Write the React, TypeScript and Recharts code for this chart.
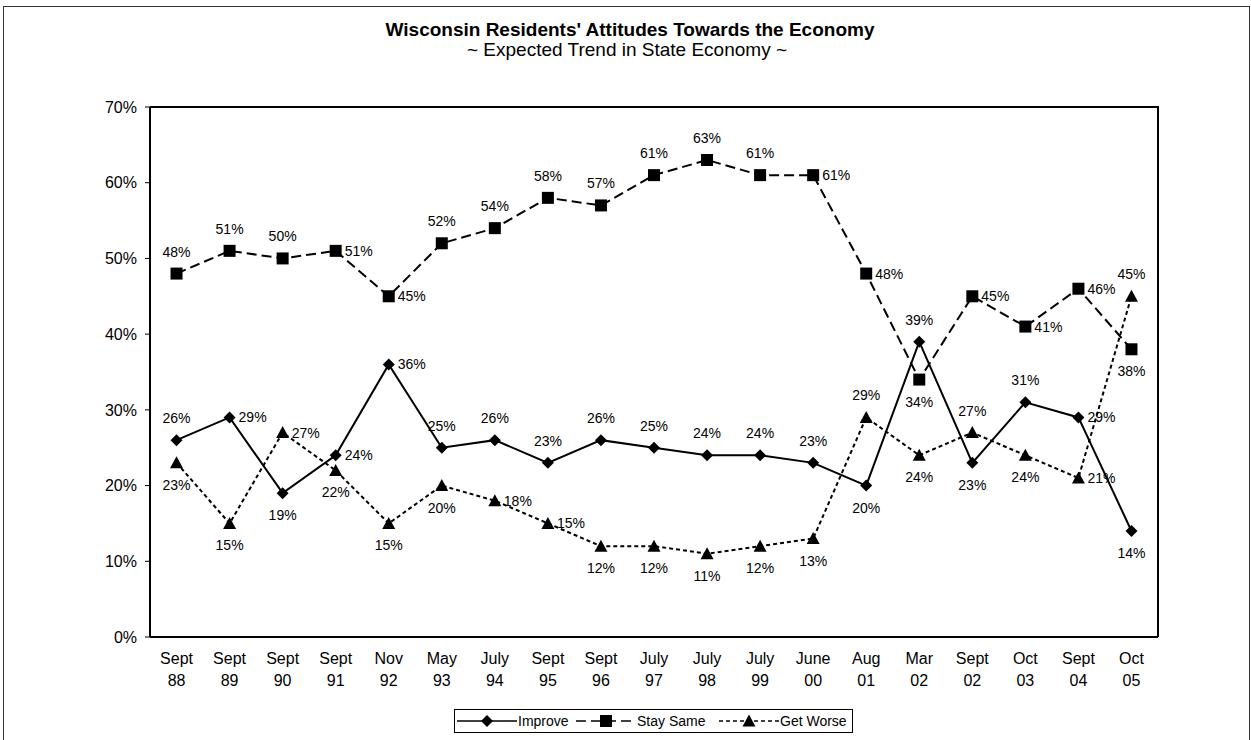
import React from 'react'
import { LineChart, Line, XAxis, YAxis } from 'recharts'

const categories = [
  'Sept 88', 'Sept 89', 'Sept 90', 'Sept 91', 'Nov 92', 'May 93', 'July 94', 'Sept 95', 'Sept 96', 'July 97',
  'July 98', 'July 99', 'June 00', 'Aug 01', 'Mar 02', 'Sept 02', 'Oct 03', 'Sept 04', 'Oct 05',
]
const improve = [26, 29, 19, 24, 36, 25, 26, 23, 26, 25, 24, 24, 23, 20, 39, 23, 31, 29, 14]
const staySame = [48, 51, 50, 51, 45, 52, 54, 58, 57, 61, 63, 61, 61, 48, 34, 45, 41, 46, 38]
const getWorse = [23, 15, 27, 22, 15, 20, 18, 15, 12, 12, 11, 12, 13, 29, 24, 27, 24, 21, 45]
const yTicks = [0, 10, 20, 30, 40, 50, 60, 70]

// where each point's label sits: t = above, r = right, b = below
const improveLabelPos = ['t', 'r', 'b', 'r', 'r', 't', 't', 't', 't', 't', 't', 't', 't', 'b', 't', 'b', 't', 'r', 'b']
const staySameLabelPos = ['t', 't', 't', 'r', 'r', 't', 't', 't', 't', 't', 't', 't', 'r', 'r', 'b', 'r', 'r', 'r', 'b']
const getWorseLabelPos = ['b', 'b', 'r', 'b', 'b', 'b', 'r', 'r', 'b', 'b', 'b', 'b', 'b', 't', 'b', 't', 'b', 'r', 't']

const rows = categories.map((label, i) => ({
  label,
  improve: improve[i],
  staySame: staySame[i],
  getWorse: getWorse[i],
}))

const series = [
  { key: 'improve', name: 'Improve', dash: undefined, marker: 'diamond', labels: improveLabelPos },
  { key: 'staySame', name: 'Stay Same', dash: '10 5', marker: 'square', labels: staySameLabelPos },
  { key: 'getWorse', name: 'Get Worse', dash: '4 3', marker: 'triangle', labels: getWorseLabelPos },
]

const FONT = '"Liberation Sans", Arial, Helvetica, sans-serif'
const W = 1251
const H = 740
// plot box
const PLOT = { left: 150, top: 107, right: 1158, bottom: 637 }
const X_AXIS_H = 60
const frameLine = { stroke: '#000', strokeWidth: 2 }

function Marker({ kind, cx, cy }: { kind: string; cx: number; cy: number }) {
  if (kind === 'diamond') {
    return <polygon points={`${cx},${cy - 6} ${cx + 6},${cy} ${cx},${cy + 6} ${cx - 6},${cy}`} fill="#000" />
  }
  if (kind === 'square') {
    return <rect x={cx - 6} y={cy - 6} width={12} height={12} fill="#000" />
  }
  return <polygon points={`${cx},${cy - 6.5} ${cx + 6.5},${cy + 5.5} ${cx - 6.5},${cy + 5.5}`} fill="#000" />
}

const makeDot = (s: any) => (props: any) => {
  const { cx, cy, index, payload } = props
  if (cx == null || cy == null) return <g key={`${s.key}-${index}`} />
  const pos = s.labels[index]
  let tx = cx
  let ty = cy - 17
  let anchor: any = 'middle'
  if (pos === 'b') ty = cy + 27
  if (pos === 'r') {
    tx = cx + 9
    ty = cy + 5
    anchor = 'start'
  }
  return (
    <g key={`${s.key}-${index}`}>
      <Marker kind={s.marker} cx={cx} cy={cy} />
      <text x={tx} y={ty} textAnchor={anchor} fontSize={14} fill="#000">
        {payload[s.key]}%
      </text>
    </g>
  )
}

const XTick = ({ x, y, payload }: any) => {
  const [mon, yr] = String(payload.value).split(' ')
  return (
    <text x={x} y={y} textAnchor="middle" fontSize={16} fill="#000">
      <tspan x={x} dy={27}>{mon}</tspan>
      <tspan x={x} dy={22}>{yr}</tspan>
    </text>
  )
}

// legend sample start positions
const legendX = [457, 576, 719]

export default function App() {
  const band = (PLOT.right - PLOT.left) / categories.length
  return (
    <div
      style={{
        position: 'absolute',
        left: 0,
        top: 0,
        width: W,
        height: H,
        background: '#fff',
        overflow: 'hidden',
        fontFamily: FONT,
      }}
    >
      <div
        style={{
          position: 'absolute',
          left: 3,
          top: 6,
          width: 1247,
          height: 800,
          border: '1px solid #333',
          boxSizing: 'border-box',
        }}
      />
      <div style={{ position: 'absolute', left: 0, top: 0 }}>
        <LineChart
          width={W}
          height={H}
          data={rows}
          margin={{ top: PLOT.top, right: W - PLOT.right, bottom: H - PLOT.bottom - X_AXIS_H, left: 0 }}
        >
          <XAxis
            dataKey="label"
            height={X_AXIS_H}
            interval={0}
            padding={{ left: band / 2, right: band / 2 }}
            tickLine={false}
            tickSize={0}
            tickMargin={0}
            tick={<XTick />}
            axisLine={frameLine}
          />
          <YAxis
            width={PLOT.left}
            domain={[0, 70]}
            ticks={yTicks}
            tickFormatter={(v) => `${v}%`}
            tickSize={5}
            tickMargin={8}
            tick={{ fontSize: 16, fill: '#000' }}
            tickLine={{ stroke: '#000', strokeWidth: 1 }}
            axisLine={frameLine}
          />
          {series.map((s) => (
            <Line
              key={s.key}
              type="linear"
              dataKey={s.key}
              name={s.name}
              stroke="#000"
              strokeWidth={2}
              strokeDasharray={s.dash}
              dot={makeDot(s)}
              activeDot={false}
              isAnimationActive={false}
            />
          ))}
        </LineChart>
      </div>
      <svg width={W} height={H} style={{ position: 'absolute', left: 0, top: 0, pointerEvents: 'none' }}>
        {/* top and right edges of the plot frame */}
        <polyline
          points={`${PLOT.left},${PLOT.top} ${PLOT.right},${PLOT.top} ${PLOT.right},${PLOT.bottom}`}
          fill="none"
          stroke="#000"
          strokeWidth={2}
        />
        <text x={630} y={36} textAnchor="middle" fontSize={19} fontWeight="bold" fill="#000">
          Wisconsin Residents' Attitudes Towards the Economy
        </text>
        <text x={627} y={56} textAnchor="middle" fontSize={19} fill="#000">
          ~ Expected Trend in State Economy ~
        </text>
        <rect x={454.5} y={709.5} width={398} height={23} fill="#fff" stroke="#000" strokeWidth={1} />
        {series.map((s, i) => {
          const x0 = legendX[i]
          return (
            <g key={s.key}>
              <line x1={x0} y1={721} x2={x0 + 60} y2={721} stroke="#000" strokeWidth={1.5} strokeDasharray={s.dash} />
              <Marker kind={s.marker} cx={x0 + 30} cy={721} />
              <text x={x0 + 61} y={726} fontSize={14} fill="#000">
                {s.name}
              </text>
            </g>
          )
        })}
      </svg>
    </div>
  )
}
